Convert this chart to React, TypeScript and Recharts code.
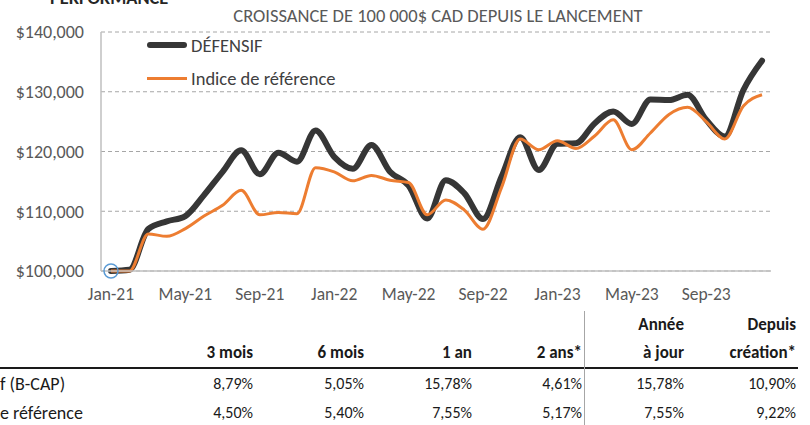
import React from "react";
import {
  LineChart,
  Line,
  XAxis,
  YAxis,
  CartesianGrid,
} from "recharts";

const months = [
  "Jan-21", "Feb-21", "Mar-21", "Apr-21", "May-21", "Jun-21", "Jul-21", "Aug-21", "Sep-21", "Oct-21", "Nov-21", "Dec-21",
  "Jan-22", "Feb-22", "Mar-22", "Apr-22", "May-22", "Jun-22", "Jul-22", "Aug-22", "Sep-22", "Oct-22", "Nov-22", "Dec-22",
  "Jan-23", "Feb-23", "Mar-23", "Apr-23", "May-23", "Jun-23", "Jul-23", "Aug-23", "Sep-23", "Oct-23", "Nov-23", "Dec-23",
];

const defensif = [
  100000, 100200, 107000, 108300, 109200, 112700, 116600, 120200, 116200, 119800, 118300, 123500,
  119100, 117100, 121100, 116600, 114300, 108800, 115200, 113000, 108700, 115800, 122400, 116900,
  121300, 121400, 124700, 126700, 124600, 128700, 128600, 129500, 125300, 122500, 130300, 135200,
];

const indice = [
  100000, 100000, 106200, 105800, 107100, 109200, 111000, 113500, 109400, 109800, 109600, 117300,
  116600, 115100, 116000, 115200, 114800, 109400, 111900, 110200, 107000, 114000, 122100, 120300,
  121800, 120500, 122600, 125300, 120300, 123100, 126200, 127400, 125000, 122100, 127600, 129500,
];

const yTicks = [100000, 110000, 120000, 130000, 140000];

const headTop = ["", "", "", "", "Année", "Depuis"];
const headBottom = ["3 mois", "6 mois", "1 an", "2 ans*", "à jour", "création*"];
const rowLabels = ["f (B-CAP)", "e référence"];
const rowDefensif = ["8,79%", "5,05%", "15,78%", "4,61%", "15,78%", "10,90%"];
const rowIndice = ["4,50%", "5,40%", "7,55%", "5,17%", "7,55%", "9,22%"];

const FONT = "Carlito, Lato, 'Open Sans', sans-serif";
const colRight = [253, 364, 472, 582, 684, 796];
const rowY = [316, 344, 375, 404];

const chartData = months.map((m, i) => ({
  month: m,
  defensif: defensif[i],
  indice: indice[i],
}));

const money = (v: number) => "$" + v.toLocaleString("en-US");

const FirstDot = (props: any) => {
  if (props.index !== 0) return null;
  return (
    <circle
      key="first"
      cx={props.cx}
      cy={props.cy}
      r={7}
      fill="none"
      stroke="#5b9bd5"
      strokeWidth={1.5}
    />
  );
};

const cell = (text: string, right: number, top: number, bold: boolean, key: string) => (
  <div
    key={key}
    style={{
      position: "absolute",
      right: 810 - right,
      top,
      fontFamily: FONT,
      fontSize: bold ? 17 : 16,
      fontWeight: bold ? 700 : 400,
      color: "#1a1a1a",
      whiteSpace: "nowrap",
      lineHeight: "18px",
    }}
  >
    {text}
  </div>
);

export default function App() {
  return (
    <div
      style={{
        position: "absolute",
        left: 0,
        top: 0,
        width: 810,
        height: 425,
        overflow: "hidden",
        background: "#fff",
      }}
    >
      <div
        style={{
          position: "absolute",
          left: 50,
          top: -11,
          lineHeight: "18px",
          fontFamily: FONT,
          fontSize: 18.4,
          fontWeight: 700,
          color: "#262626",
        }}
      >
        PERFORMANCE
      </div>
      <div
        style={{
          position: "absolute",
          left: 0,
          width: 876,
          top: 5,
          lineHeight: "22px",
          textAlign: "center",
          fontFamily: FONT,
          fontSize: 18.5,
          color: "#595959",
        }}
      >
        CROISSANCE DE 100 000$ CAD DEPUIS LE LANCEMENT
      </div>

      <div style={{ position: "absolute", left: 0, top: 0 }}>
        <LineChart
          width={810}
          height={310}
          data={chartData}
          margin={{ top: 32, right: 39, bottom: 0, left: 0 }}
        >
          <CartesianGrid
            vertical={false}
            stroke="#a6a6a6"
            strokeDasharray="4 3"
          />
          <XAxis
            dataKey="month"
            interval={3}
            height={39}
            tickLine={false}
            tickMargin={11}
            padding={{ left: 10, right: 9 }}
            axisLine={{ stroke: "#bfbfbf", strokeWidth: 1.5 }}
            tick={{ fill: "#595959", fontSize: 17.5, fontFamily: FONT }}
          />
          <YAxis
            domain={[100000, 140000]}
            ticks={yTicks}
            width={101}
            tickLine={false}
            tickMargin={11}
            tickFormatter={money}
            axisLine={{ stroke: "#bfbfbf", strokeWidth: 1.5 }}
            tick={{ fill: "#595959", fontSize: 18, fontFamily: FONT }}
          />
          <Line
            type="monotone"
            dataKey="defensif"
            stroke="#363636"
            strokeWidth={6}
            strokeLinecap="round"
            dot={<FirstDot />}
            activeDot={false}
            isAnimationActive={false}
          />
          <Line
            type="monotone"
            dataKey="indice"
            stroke="#ed7d31"
            strokeWidth={3}
            dot={false}
            activeDot={false}
            isAnimationActive={false}
          />
        </LineChart>
      </div>

      <div
        style={{
          position: "absolute",
          left: 147,
          top: 31,
          fontFamily: FONT,
          fontSize: 18.5,
          color: "#404040",
        }}
      >
        <div style={{ display: "flex", alignItems: "center", height: 28 }}>
          <div style={{ width: 40, height: 6, background: "#363636", borderRadius: 3 }} />
          <span style={{ marginLeft: 4 }}>DÉFENSIF</span>
        </div>
        <div style={{ display: "flex", alignItems: "center", height: 38 }}>
          <div style={{ width: 40, height: 3, background: "#ed7d31" }} />
          <span style={{ marginLeft: 4 }}>Indice de référence</span>
        </div>
      </div>

      {headTop.map((t, i) => cell(t, colRight[i], rowY[0], true, "ht" + i))}
      {headBottom.map((t, i) => cell(t, colRight[i], rowY[1], true, "hb" + i))}
      {rowDefensif.map((t, i) => cell(t, colRight[i], rowY[2], false, "d" + i))}
      {rowIndice.map((t, i) => cell(t, colRight[i], rowY[3], false, "r" + i))}
      {rowLabels.map((t, i) => (
        <div
          key={"l" + i}
          style={{
            position: "absolute",
            left: 0,
            top: rowY[2 + i],
            fontFamily: FONT,
            fontSize: 18,
            color: "#1a1a1a",
            lineHeight: "18px",
            whiteSpace: "nowrap",
          }}
        >
          {t}
        </div>
      ))}
      <div
        style={{
          position: "absolute",
          left: 0,
          top: 367,
          width: 798,
          height: 1.5,
          background: "#1a1a1a",
        }}
      />
      <div
        style={{
          position: "absolute",
          left: 584,
          top: 311,
          width: 1,
          height: 114,
          background: "#a6a6a6",
        }}
      />
    </div>
  );
}
